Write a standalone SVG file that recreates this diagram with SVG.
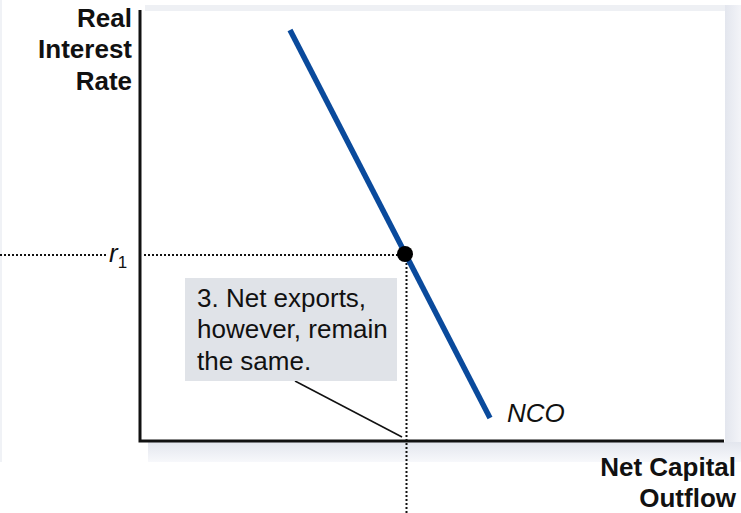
<svg xmlns="http://www.w3.org/2000/svg" width="741" height="513" viewBox="0 0 741 513">
<defs>
<linearGradient id="shB" x1="0" y1="0" x2="0" y2="1">
<stop offset="0" stop-color="#e3e6ee"/><stop offset="1" stop-color="#f7f8fb"/>
</linearGradient>
<linearGradient id="shR" x1="0" y1="0" x2="1" y2="0">
<stop offset="0" stop-color="#e3e6ee"/><stop offset="1" stop-color="#f3f4f8"/>
</linearGradient>
</defs>
<style>
.lbl{font-family:"Liberation Sans",Arial,sans-serif;font-weight:bold;font-size:26px;fill:#111;text-anchor:end}
.note{font-family:"Liberation Sans",Arial,sans-serif;font-size:26px;fill:#111}
.it{font-family:"Liberation Sans",Arial,sans-serif;font-style:italic;fill:#111}
.dot{stroke:#111;stroke-width:2;stroke-dasharray:2 2;fill:none}
.axis{stroke:#111;stroke-width:3;fill:none}
</style>
<rect width="741" height="513" fill="#fff"/>
<g id="panel">
<rect x="0" y="0" width="2" height="462" fill="#f0f2f6"/>
<rect x="145" y="5" width="596" height="6" fill="#eef0f4"/>
<rect x="725" y="5" width="16" height="457" fill="url(#shR)"/>
<rect x="148" y="442" width="593" height="20" fill="url(#shB)"/>
<rect x="141" y="11" width="584" height="430" fill="#fff"/>
</g>
<g id="axes">
<path class="axis" d="M140 10 V441 H724"/>
</g>
<g id="connectors">
<path class="dot" d="M0 255 H106"/>
<path class="dot" d="M144 255 H405"/>
<path class="dot" d="M406.5 255 V513"/>
<path d="M295 381 L402 437" stroke="#111" stroke-width="1.5" fill="none"/>
</g>
<g id="nco">
<path d="M290 30 L490 418" stroke="#0a4a9c" stroke-width="5.5" fill="none"/>
<text class="it" x="507" y="422" font-size="26">NCO</text>
</g>
<g id="point">
<circle cx="405" cy="254" r="8" fill="#000"/>
</g>
<g id="r1">
<text class="it" x="109" y="262" font-size="26">r<tspan font-style="normal" font-size="17" dy="6">1</tspan></text>
</g>
<g id="callout">
<rect x="185" y="278" width="212" height="103" fill="#e0e3e8"/>
<text class="note" x="197" y="307">3. Net exports,</text>
<text class="note" x="197" y="338">however, remain</text>
<text class="note" x="197" y="370">the same.</text>
</g>
<g id="ylabel">
<text class="lbl" x="132" y="27">Real</text>
<text class="lbl" x="132" y="58">Interest</text>
<text class="lbl" x="132" y="90">Rate</text>
</g>
<g id="xlabel">
<text class="lbl" x="736" y="476">Net Capital</text>
<text class="lbl" x="736" y="507">Outflow</text>
</g>
</svg>
